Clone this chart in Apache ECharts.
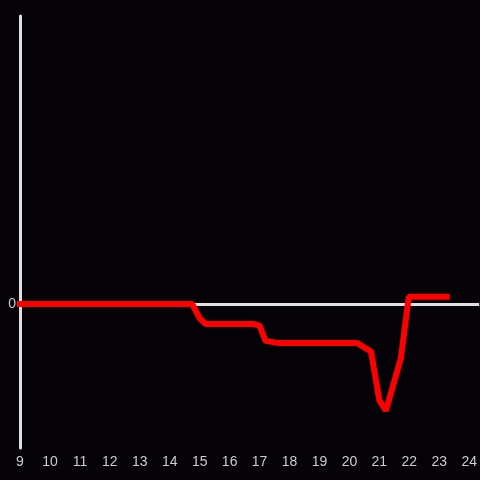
<!DOCTYPE html>
<html>
<head>
<meta charset="utf-8">
<script src="https://cdn.jsdelivr.net/npm/echarts@6/dist/echarts.min.js"></script>
<style>
	html, body { margin: 0; padding: 0; background: #050307; }
	#main { width: 480px; height: 480px; }
</style>
</head>
<body>
<div id="main"></div>
<script>
// hour of day and value
var hours = [9, 14.75, 15.0, 15.2, 16.8, 17.0, 17.2, 17.6, 20.25, 20.72, 21.0, 21.22, 21.72, 21.98, 23.25];
var values = [0, 0, -10, -13.9, -13.9, -15, -25.6, -27, -27, -33, -67, -74, -37.4, 5, 5];
var xTicks = [9, 24];

var i,
	seriesData = [],
	myChart,
	option;

for (i=0; i < hours.length; i++)
{
	seriesData.push([hours[i], values[i]]);
}

option = {
	backgroundColor: '#050307',
	animation: false,
	grid: {
		left: 20,
		right: 0,
		top: 16,
		bottom: 32
	},
	xAxis: {
		type: 'value',
		min: xTicks[0],
		max: xTicks[1] + 1 / 3,
		interval: 1,
		axisLine: { show: false },
		axisTick: { show: false },
		splitLine: { show: false },
		axisLabel: {
			color: '#cccccc',
			fontFamily: 'Arial',
			fontSize: 14,
			margin: 7,
			showMaxLabel: false
		}
	},
	yAxis: {
		type: 'value',
		min: -100,
		max: 200,
		interval: 100,
		axisLine: {
			show: true,
			onZero: false,
			lineStyle: { color: '#e0e0e0', width: 3 }
		},
		axisTick: { show: false },
		splitLine: { show: false },
		axisLabel: {
			color: '#cccccc',
			fontFamily: 'Arial',
			fontSize: 14,
			margin: 4,
			formatter: function (v) {
				return v === 0 ? '0' : '';
			}
		}
	},
	series: [{
		type: 'line',
		data: seriesData,
		symbol: 'none',
		clip: false,
		lineStyle: { color: '#ff0000', width: 6, cap: 'square' },
		z: 3,
		markLine: {
			silent: true,
			symbol: 'none',
			label: { show: false },
			lineStyle: { color: '#e0e0e0', width: 3, type: 'solid' },
			data: [{ yAxis: 0 }],
			z: 1
		}
	}]
};

myChart = echarts.init(document.getElementById('main'), null, { renderer: 'canvas' });
myChart.setOption(option);
</script>
</body>
</html>
